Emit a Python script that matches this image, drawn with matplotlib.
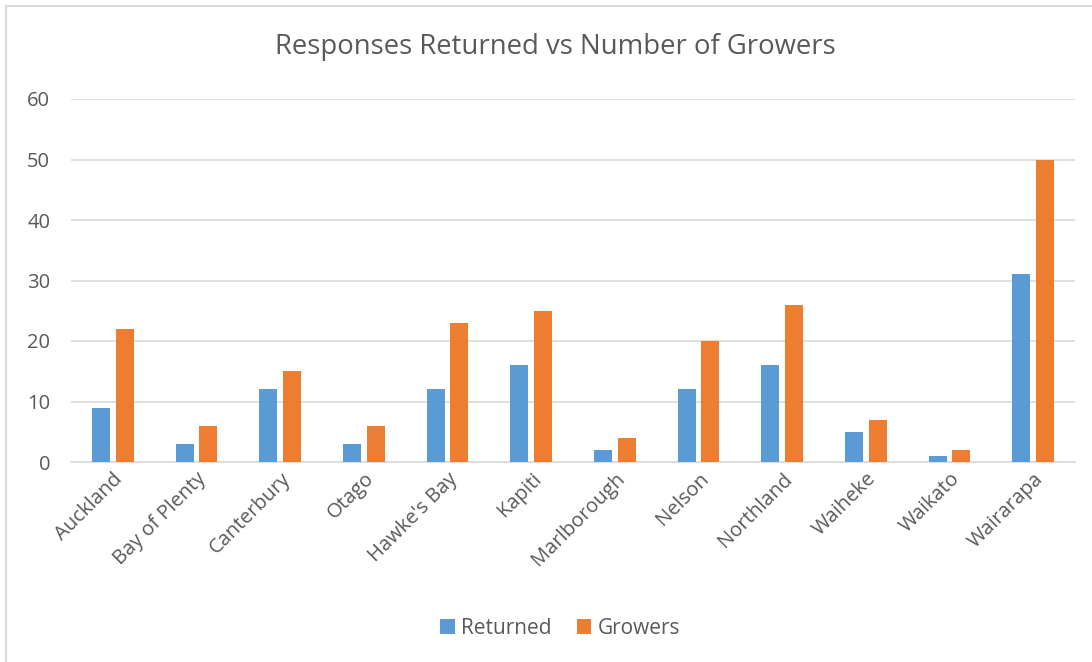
import numpy as np
import matplotlib
matplotlib.use("Agg")
import matplotlib.pyplot as plt
from matplotlib.lines import Line2D

regions = ["Auckland", "Bay of Plenty", "Canterbury", "Otago", "Hawke's Bay", "Kapiti",
           "Marlborough", "Nelson", "Northland", "Waiheke", "Waikato", "Wairarapa"]
returned = [9, 3, 12, 3, 12, 16, 2, 12, 16, 5, 1, 31]
growers = [22, 6, 15, 6, 23, 25, 4, 20, 26, 7, 2, 50]

plt.rcParams['font.family'] = ['Open Sans', 'DejaVu Sans']
txt = '#595959'
grid = '#d9d9d9'

fig = plt.figure(figsize=(10.92, 6.62), dpi=100)
ax = fig.add_axes([71/1092, 1 - 462/662, (1075-71)/1092, (462-99)/662])

x = np.arange(len(regions))
w = 0.215
ax.bar(x - 0.143, returned, w, color='#5B9BD5', label='Returned', zorder=3)
ax.bar(x + 0.143, growers, w, color='#ED7D31', label='Growers', zorder=3)

ax.set_xlim(-0.5, len(regions) - 0.5)
ax.set_ylim(0, 60)
ax.set_yticks(range(0, 61, 10))
ax.yaxis.grid(True, color=grid, linewidth=1.2, zorder=0)
for s in ['top', 'right', 'left']:
    ax.spines[s].set_visible(False)
ax.spines['bottom'].set_color(grid)
ax.spines['bottom'].set_linewidth(1.2)
ax.tick_params(axis='both', length=0, labelsize=14.5, colors=txt)
ax.tick_params(axis='y', pad=15)
ax.tick_params(axis='x', pad=5)
ax.set_xticks(x)
ax.set_xticklabels(regions, rotation=45, ha='right', rotation_mode='anchor')

fig.text(555/1092, 1 - 47/662, 'Responses Returned vs Number of Growers',
         ha='center', va='center', fontsize=19.8, color=txt)

leg = fig.legend(loc='center', bbox_to_anchor=(560/1092, 1 - 628/662), ncol=2,
                 frameon=False, fontsize=15, handlelength=0.7, handleheight=0.7,
                 handletextpad=0.3, columnspacing=1.2)
for t in leg.get_texts():
    t.set_color(txt)

# chart border
fig.add_artist(Line2D([6/1092, 1], [1 - 6/662, 1 - 6/662], color=grid, linewidth=1.5))
fig.add_artist(Line2D([6/1092, 6/1092], [0, 1 - 6/662], color=grid, linewidth=1.5))

fig.savefig('out.png', dpi=100)
